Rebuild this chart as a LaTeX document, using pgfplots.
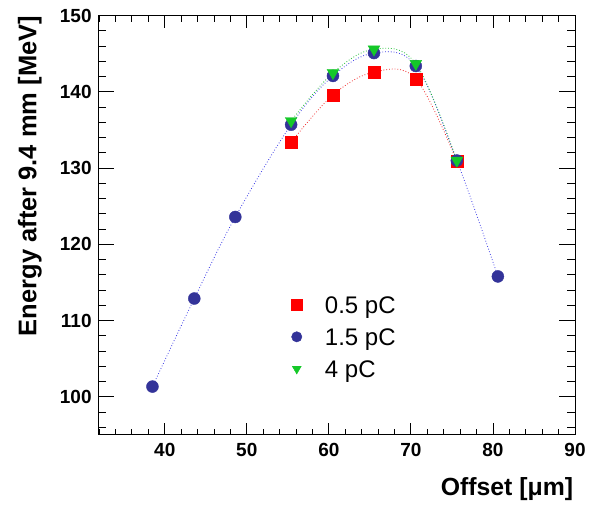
\documentclass[border=0pt]{standalone}
\usepackage{fontspec}
\setmainfont{Liberation Sans}
\usepackage{pgfplots}
\pgfplotsset{compat=1.18}
\definecolor{cRed}{RGB}{255,0,0}
\definecolor{cBlue}{RGB}{51,51,153}
\definecolor{cGreen}{RGB}{20,200,40}
\definecolor{lBlue}{RGB}{60,60,230}
\definecolor{lGreen}{RGB}{30,190,50}
\definecolor{lRed}{RGB}{240,40,40}
\begin{document}
\begin{tikzpicture}[x=1pt,y=1pt]
\path[use as bounding box] (-98.3,-71) rectangle (493.7,435);
\pgfplotsset{
  common/.style={
    at={(0,0)}, anchor=south west, scale only axis,
    width=476.7pt, height=419.3pt,
    xmin=31.9, xmax=90, ymin=95, ymax=150,
    axis line style={line width=1pt},
    tick align=inside,
    tick style={black, line width=0.9pt},
    /pgf/number format/assume math mode=true,
    ticklabel style={font=\fontsize{19}{22}\selectfont\bfseries},
  }
}
% y-axis ticks and label
\begin{axis}[common,
  xtick=\empty,
  ytick={100,110,...,150},
  minor ytick={96,98,...,148},
  ytick pos=both,
  major tick length=16pt, minor tick length=8pt,
  yticklabel style={inner sep=0pt, xshift=-6.5pt},
  ylabel={Energy after 9.4 mm [MeV]},
  ylabel style={font=\fontsize{25.5}{30}\selectfont\bfseries, inner sep=0pt,
     at={(axis description cs:0,1)}, anchor=base east, yshift=62pt},
]
\end{axis}
% x-axis ticks, data, legend
\begin{axis}[common,
  ytick=\empty,
  xtick={40,50,...,90},
  minor xtick={32,34,...,88},
  xtick pos=both,
  major tick length=12pt, minor tick length=6pt,
  xticklabel style={inner sep=0pt, yshift=-8.3pt},
  xlabel={Offset [μm]},
  xlabel style={font=\fontsize{24.8}{29}\selectfont\bfseries, inner sep=0pt,
     at={(axis description cs:1,0)}, anchor=base east, xshift=-1.7pt, yshift=-61pt},
  legend image code/.code={\draw[#1, mark size=5.2pt] plot coordinates {(0pt,3pt)};},
  legend cell align=left,
  legend style={draw=none, fill=none, inner sep=0pt,
     font=\fontsize{24}{28}\selectfont,
     nodes={inner sep=0pt, text height=17pt, text depth=5pt},
     row sep=10pt, column sep=23pt,
     at={(axis description cs:0.405,0.330)}, anchor=north west},
]
% curves
\addplot[forget plot, lBlue, line width=0.8pt, dash pattern=on 0.8pt off 2pt, smooth, tension=0.6] coordinates {
(38.5,101.35) (43.6,112.9) (48.6,123.6) (55.4,135.7) (60.5,142.1) (65.5,145.1) (70.6,143.4) (75.6,131.0) (80.6,115.8)};
\addplot[forget plot, lRed, line width=0.8pt, dash pattern=on 0.8pt off 2pt, smooth, tension=0.6] coordinates {
(55.4,133.4) (60.5,139.6) (65.5,142.6) (70.6,141.7) (75.6,130.9)};
\addplot[forget plot, lGreen, line width=0.8pt, dash pattern=on 0.8pt off 2pt, smooth, tension=0.6] coordinates {
(55.4,136.2) (60.5,142.5) (65.5,145.6) (70.6,143.7) (75.6,131.0)};
% markers
\addplot[only marks, mark=square*, mark size=5.9pt, color=cRed, mark options={draw=cRed, fill=cRed}] coordinates {
(55.4,133.4) (60.5,139.6) (65.5,142.6) (70.6,141.7) (75.6,130.9)};
\addlegendentry{0.5 pC}
\addplot[only marks, mark=*, mark size=6pt, color=cBlue, mark options={draw=cBlue, fill=cBlue}] coordinates {
(38.5,101.35) (43.6,112.9) (48.6,123.6) (55.4,135.7) (60.5,142.1) (65.5,145.1) (70.6,143.4) (75.6,131.0) (80.6,115.8)};
\addlegendentry{1.5 pC}
\addplot[only marks, mark=triangle*, mark size=6.8pt, color=cGreen, mark options={draw=cGreen, fill=cGreen, rotate=180}] coordinates {
(55.4,136.2) (60.5,142.5) (65.5,145.6) (70.6,143.7) (75.6,131.0)};
\addlegendentry{4 pC}
\end{axis}
\end{tikzpicture}
\end{document}
